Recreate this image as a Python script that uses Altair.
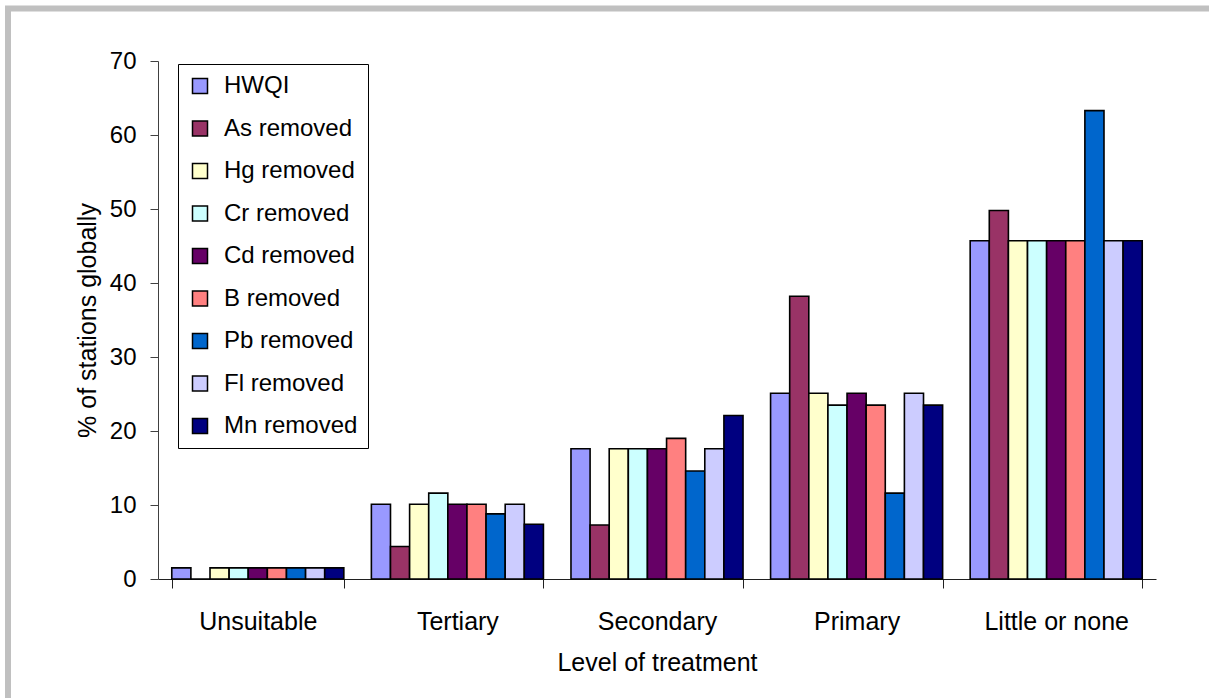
import altair as alt
import pandas as pd

# Treatment levels (x categories) and the removal scenarios (bar series)
levels = ["Unsuitable", "Tertiary", "Secondary", "Primary", "Little or none"]
series = ["HWQI", "As removed", "Hg removed", "Cr removed", "Cd removed",
          "B removed", "Pb removed", "Fl removed", "Mn removed"]
colors = ["#9999FF", "#993366", "#FFFFCC", "#CCFFFF", "#660066",
          "#FF8080", "#0066CC", "#CCCCFF", "#000080"]

# % of stations globally, one value per treatment level
hwqi       = [1.5, 10.1, 17.6, 25.1, 45.7]
as_removed = [0.0, 4.4, 7.3, 38.2, 49.8]
hg_removed = [1.5, 10.1, 17.6, 25.1, 45.7]
cr_removed = [1.5, 11.6, 17.6, 23.5, 45.7]
cd_removed = [1.5, 10.1, 17.6, 25.1, 45.7]
b_removed  = [1.5, 10.1, 19.0, 23.5, 45.7]
pb_removed = [1.5, 8.8, 14.6, 11.6, 63.3]
fl_removed = [1.5, 10.1, 17.6, 25.1, 45.7]
mn_removed = [1.5, 7.4, 22.1, 23.5, 45.7]

y_ticks = [0, 10, 20, 30, 40, 50, 60, 70]

all_values = [hwqi, as_removed, hg_removed, cr_removed, cd_removed,
              b_removed, pb_removed, fl_removed, mn_removed]
rows = []
for name, vals in zip(series, all_values):
    for lvl, v in zip(levels, vals):
        rows.append({"level": lvl, "series": name, "pct": v})
df = pd.DataFrame(rows)

FONT = "Liberation Sans"

bars = alt.Chart(df).mark_bar(stroke="black", strokeWidth=1.6).encode(
    x=alt.X(
        "level:N", sort=levels, title="Level of treatment",
        scale=alt.Scale(paddingInner=0.138, paddingOuter=0.069),
        axis=alt.Axis(labelAngle=0, tickBand="extent", tickSize=9,
                      labelPadding=21, labelFontSize=25, titleFontSize=25,
                      titlePadding=16, domainColor="#202020",
                      tickColor="#202020", titleFontWeight="normal"),
    ),
    xOffset=alt.XOffset("series:N", sort=series,
                        scale=alt.Scale(paddingInner=0, paddingOuter=0)),
    y=alt.Y(
        "pct:Q", title="% of stations globally",
        scale=alt.Scale(domain=[0, 70], nice=False),
        axis=alt.Axis(values=y_ticks, grid=False, tickSize=8,
                      labelPadding=14, labelFontSize=24, titleFontSize=25,
                      titlePadding=9, domainColor="#404040",
                      tickColor="#404040", titleFontWeight="normal"),
    ),
    color=alt.Color(
        "series:N", sort=series,
        scale=alt.Scale(domain=series, range=colors),
        legend=alt.Legend(
            title=None, orient="none", legendX=20, legendY=3,
            symbolType="square", symbolSize=225, symbolStrokeColor="black",
            symbolStrokeWidth=1.5, symbolOpacity=1,
            labelFontSize=24, labelOffset=12, rowPadding=18.5,
            padding=10, strokeColor="black", fillColor="white",
        ),
    ),
)

# light grey frame around the figure (right and bottom edges fall off-page)
frame = alt.Chart(pd.DataFrame({"k": [0]})).mark_rect(
    stroke="#c0c0c0", strokeWidth=6, fillOpacity=0
).encode(
    x=alt.value(-150), x2=alt.value(1120),
    y=alt.value(-52.5), y2=alt.value(700),
)

chart = alt.layer(frame, bars).properties(
    width=998, height=518,
    autosize=alt.AutoSizeParams(type="none"),
    padding={"left": 158, "top": 61, "right": 53, "bottom": 119},
    background="white",
    view=alt.ViewBackground(strokeWidth=0, stroke="transparent"),
).configure_view(
    stroke="transparent", strokeWidth=0
).configure(
    font=FONT
).configure_axis(
    labelColor="black", titleColor="black", labelFont=FONT, titleFont=FONT
).configure_legend(
    labelColor="black", labelFont=FONT
)

chart.save("out.html", embed_options={"renderer": "svg", "actions": False})
